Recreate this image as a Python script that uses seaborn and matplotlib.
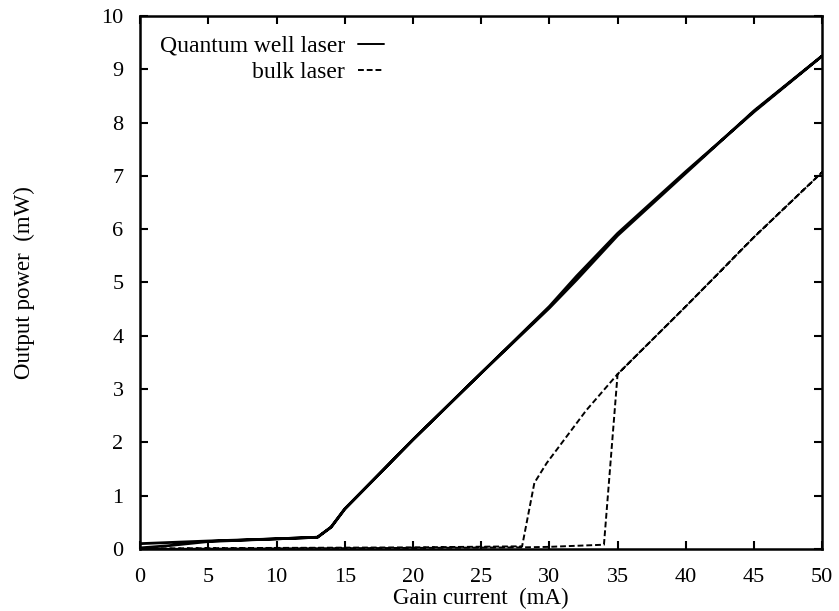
import numpy as np
import pandas as pd
import matplotlib
matplotlib.use("Agg")
import matplotlib.pyplot as plt
import seaborn as sns

# Quantum well laser: current sweep up then back down
qw_current = [0, 2, 5, 10, 13, 14, 15, 20, 25, 30, 32, 35, 40, 45, 50,
              45, 40, 35, 32, 30, 25, 20, 15, 14, 13, 10, 5, 2, 0]
qw_power = [0.02, 0.06, 0.14, 0.19, 0.22, 0.41, 0.75, 2.05, 3.3, 4.55, 5.12, 5.92, 7.08, 8.2, 9.25,
            8.22, 7.05, 5.88, 5.05, 4.52, 3.3, 2.05, 0.75, 0.41, 0.22, 0.19, 0.15, 0.12, 0.1]

# Bulk laser: hysteresis loop (up sweep, then down sweep)
bulk_current = [0, 10, 20, 28, 30, 34, 35, 40, 45, 50,
                45, 40, 35, 32.7, 29.8, 28.9, 28, 20, 10, 0]
bulk_power = [0.0, 0.01, 0.02, 0.03, 0.04, 0.08, 3.28, 4.55, 5.85, 7.07,
              5.85, 4.55, 3.28, 2.6, 1.61, 1.24, 0.05, 0.03, 0.02, 0.01]

series_names = ["Quantum well laser", "bulk laser"]
x_ticks = list(range(0, 51, 5))
y_ticks = list(range(0, 11))

df = pd.concat([
    pd.DataFrame({"current": qw_current, "power": qw_power,
                  "laser": series_names[0], "order": range(len(qw_current))}),
    pd.DataFrame({"current": bulk_current, "power": bulk_power,
                  "laser": series_names[1], "order": range(len(bulk_current))}),
], ignore_index=True)

sns.set_theme(style="ticks")
plt.rcParams["font.family"] = ["Liberation Serif", "DejaVu Serif"]
plt.rcParams["text.color"] = "black"
plt.rcParams["axes.labelcolor"] = "black"

fig = plt.figure(figsize=(8.39, 6.11), dpi=100)
ax = fig.add_axes([0.167, 0.1015, 0.813, 0.8725])

sns.lineplot(data=df, x="current", y="power", hue="laser", style="laser",
             palette=["black", "black"],
             dashes={series_names[0]: "", series_names[1]: (3, 1.5)},
             sort=False, estimator=None, units="laser", ax=ax)
for line in ax.lines:
    if line.get_linestyle() == "-":
        line.set_linewidth(2.0)
    else:
        line.set_linewidth(1.4)

ax.set_xlim(0, 50)
ax.set_ylim(0, 10)
ax.set_xticks(x_ticks)
ax.set_yticks(y_ticks)
ax.tick_params(direction="in", length=6, width=1.5, top=True, right=True,
               labelsize=16, colors="black")
ax.tick_params(axis="x", pad=14)
ax.tick_params(axis="y", pad=12)
for s in ax.spines.values():
    s.set_linewidth(1.8)
    s.set_color("black")

ax.set_xlabel("Gain current  (mA)", fontsize=16.5, labelpad=0.5)
ax.set_ylabel("Output power  (mW)", fontsize=16.5, labelpad=47.5)

handles, labels = ax.get_legend_handles_labels()
for h in handles:
    h.set_linewidth(1.4)
leg = ax.legend(handles, labels, loc="upper left", bbox_to_anchor=(0.008, 0.99),
                frameon=False, markerfirst=False, fontsize=17,
                handlelength=1.1, handletextpad=0.55, labelspacing=0.2,
                borderaxespad=0.2)
for t in leg.get_texts():
    t.set_ha("right")
leg._legend_box.align = "right"

fig.savefig("out.png", dpi=100, facecolor="white")
